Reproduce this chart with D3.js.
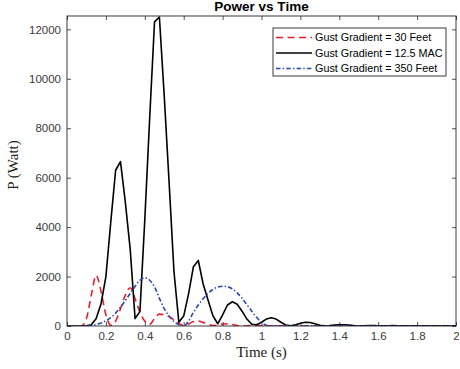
<!DOCTYPE html>
<html>
<head>
<meta charset="utf-8">
<script src="https://cdn.jsdelivr.net/npm/d3@7"></script>
<style>
  html, body { margin: 0; padding: 0; background: #fff; }
  svg { display: block; }
</style>
</head>
<body>
<svg id="chart" width="460" height="369"></svg>
<script>
// Sample interval of the simulation output (s)
const dt = 0.025;

// Power (W) for each gust gradient, one value per sample
const gust30Feet = [
  0, 0, 0, 10, 300, 1250, 2050, 1400, 450, 30,
  200, 700, 1250, 1550, 1100, 550, 200, 60, 300, 480,
  450, 380, 250, 100, 20, 80, 180, 200, 140, 70,
  20, 40, 80, 90, 60, 20, 5, 10, 20, 20,
  10, 5, 5, 10, 10, 5, 0, 5, 5, 5,
  0, 0, 5, 5, 0, 0, 0, 5, 5, 0,
  0, 0, 0, 5, 0, 0, 0, 0, 0, 0,
  0, 0, 0, 0, 0, 0, 0, 0, 0, 0, 0
];
const gust125MAC = [
  0, 0, 0, 0, 5, 50, 300, 900, 2000, 4200,
  6300, 6650, 5000, 3100, 300, 580, 4300, 8400, 12300, 12500,
  9300, 5800, 2200, 150, 400, 1300, 2400, 2650, 1700, 1050,
  420, 90, 450, 850, 980, 880, 600, 280, 70, 50,
  150, 280, 330, 280, 150, 40, 10, 50, 110, 150,
  140, 90, 30, 5, 15, 35, 50, 50, 35, 15,
  5, 10, 20, 20, 10, 5, 10, 15, 10, 5,
  5, 10, 10, 5, 5, 8, 8, 5, 5, 5, 5
];
const gust350Feet = [
  0, 0, 0, 0, 5, 20, 60, 120, 210, 340,
  520, 760, 1030, 1320, 1600, 1850, 1950, 1850, 1580, 1120,
  700, 400, 180, 50, 0, 200, 550, 850, 1100, 1320,
  1480, 1570, 1610, 1590, 1500, 1340, 1120, 860, 600, 350,
  150, 30, 0, 0, 5, 5, 0, 0, 0, 5,
  5, 0, 0, 0, 0, 5, 0, 0, 0, 0,
  0, 0, 0, 0, 0, 0, 0, 0, 0, 0,
  0, 0, 0, 0, 0, 0, 0, 0, 0, 0, 0
];

const seriesNames = ["Gust Gradient = 30 Feet", "Gust Gradient = 12.5 MAC", "Gust Gradient = 350 Feet"];
const xTicks = [0, 0.2, 0.4, 0.6, 0.8, 1, 1.2, 1.4, 1.6, 1.8, 2];
const yTicks = [0, 2000, 4000, 6000, 8000, 10000, 12000];

const titleText = "Power vs Time";
const xLabel = "Time (s)";
const yLabel = "P (Watt)";

// Plot area
const plotL = 67, plotR = 456, plotT = 16, plotB = 326;
const axisColor = "#262626";
const sansFont = "'Liberation Sans', Arial, Helvetica, sans-serif";
const serifFont = "'Liberation Serif', 'Times New Roman', serif";

const svg = d3.select("#chart");

const x = d3.scaleLinear().domain([0, 2]).range([plotL, plotR]);
const y = d3.scaleLinear().domain([0, 12540]).range([plotB, plotT]);

const styles = [
  { data: gust30Feet,  color: "#ec1c2a", dash: "7,4.5",           curve: d3.curveMonotoneX },
  { data: gust125MAC,  color: "#000000", dash: null,              curve: d3.curveLinear },
  { data: gust350Feet, color: "#2747b5", dash: "4.5,2.2,1.4,2.2", curve: d3.curveMonotoneX }
];

svg.append("defs").append("clipPath").attr("id", "plotClip")
  .append("rect").attr("x", plotL).attr("y", plotT - 1)
  .attr("width", plotR - plotL).attr("height", plotB - plotT + 1);

// Curves
const plot = svg.append("g").attr("clip-path", "url(#plotClip)");
styles.forEach(s => {
  const pts = s.data.map((v, i) => [i * dt, v]);
  const line = d3.line().x(d => x(d[0])).y(d => y(d[1])).curve(s.curve);
  plot.append("path")
    .attr("d", line(pts))
    .attr("fill", "none")
    .attr("stroke", s.color)
    .attr("stroke-width", 1.6)
    .attr("stroke-linejoin", "round")
    .attr("stroke-dasharray", s.dash);
});

// Axes: bottom/left carry labels, top/right mirror the ticks (boxed axes)
const tickLen = 4;
const fmtX = d => String(+d.toFixed(1));
const xAxisB = d3.axisBottom(x).tickValues(xTicks).tickSize(-tickLen).tickSizeOuter(0).tickPadding(6).tickFormat(fmtX);
const xAxisT = d3.axisTop(x).tickValues(xTicks).tickSize(-tickLen).tickSizeOuter(0).tickFormat("");
const yAxisL = d3.axisLeft(y).tickValues(yTicks).tickSize(-tickLen).tickSizeOuter(0).tickPadding(6).tickFormat(d3.format("d"));
const yAxisR = d3.axisRight(y).tickValues(yTicks).tickSize(-tickLen).tickSizeOuter(0).tickFormat("");

function styleAxis(g) {
  g.select(".domain").remove();
  g.selectAll(".tick line").attr("stroke", axisColor).attr("stroke-width", 0.8);
  g.selectAll(".tick text").attr("fill", "#3a3a3a").style("font-family", sansFont).style("font-size", "11.5px");
}

svg.append("g").attr("transform", `translate(0,${plotB})`).call(xAxisB).call(styleAxis);
svg.append("g").attr("transform", `translate(0,${plotT})`).call(xAxisT).call(styleAxis);
svg.append("g").attr("transform", `translate(${plotL},0)`).call(yAxisL).call(styleAxis);
svg.append("g").attr("transform", `translate(${plotR},0)`).call(yAxisR).call(styleAxis);

svg.append("rect")
  .attr("x", plotL).attr("y", plotT)
  .attr("width", plotR - plotL).attr("height", plotB - plotT)
  .attr("fill", "none").attr("stroke", axisColor).attr("stroke-width", 0.9);

// Title and axis labels
svg.append("text")
  .attr("x", (plotL + plotR) / 2).attr("y", 11)
  .attr("text-anchor", "middle")
  .style("font-family", sansFont).style("font-size", "13.5px").style("font-weight", "bold")
  .attr("fill", "#000")
  .text(titleText);

svg.append("text")
  .attr("x", (plotL + plotR) / 2).attr("y", 357)
  .attr("text-anchor", "middle")
  .style("font-family", serifFont).style("font-size", "15px")
  .attr("fill", "#222")
  .text(xLabel);

svg.append("text")
  .attr("transform", `translate(18,165) rotate(-90)`)
  .attr("text-anchor", "middle")
  .style("font-family", serifFont).style("font-size", "15px")
  .attr("fill", "#222")
  .text(yLabel);

// Legend
const legend = svg.append("g");
const lgX = 273, lgY = 28, lgW = 173, lgH = 48;
legend.append("rect")
  .attr("x", lgX).attr("y", lgY).attr("width", lgW).attr("height", lgH)
  .attr("fill", "#fff").attr("stroke", axisColor).attr("stroke-width", 0.9);
styles.forEach((s, i) => {
  const yy = lgY + 9.5 + i * 15.5;
  legend.append("line")
    .attr("x1", lgX + 3).attr("x2", lgX + 39).attr("y1", yy).attr("y2", yy)
    .attr("stroke", s.color).attr("stroke-width", 1.6)
    .attr("stroke-dasharray", s.dash);
  legend.append("text")
    .attr("x", lgX + 42).attr("y", yy + 3.8)
    .style("font-family", sansFont).style("font-size", "10.8px")
    .attr("fill", "#000")
    .text(seriesNames[i]);
});
</script>
</body>
</html>
